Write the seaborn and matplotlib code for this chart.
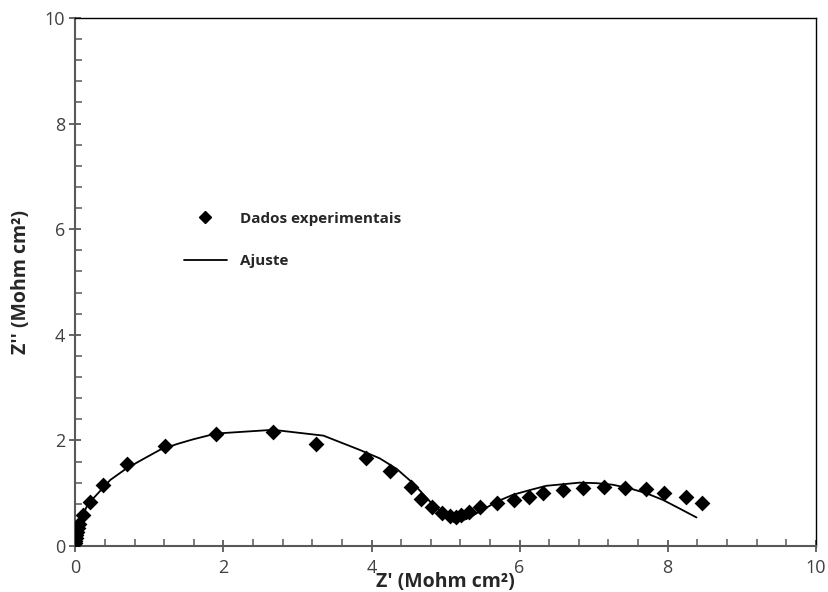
import matplotlib
matplotlib.use("Agg")
import matplotlib.pyplot as plt
from matplotlib.lines import Line2D
from matplotlib.ticker import MultipleLocator
import seaborn as sns
import pandas as pd

# Experimental impedance data (Nyquist plot)
z_real = [0.00, 0.00, 0.01, 0.01, 0.02, 0.03, 0.05, 0.10, 0.19, 0.37, 0.70, 1.21,
          1.90, 2.67, 3.25, 3.92, 4.25, 4.53, 4.67, 4.82, 4.95, 5.06, 5.14, 5.21,
          5.32, 5.46, 5.70, 5.93, 6.12, 6.32, 6.59, 6.86, 7.14, 7.43, 7.71, 7.95,
          8.25, 8.47]
z_imag = [0.05, 0.10, 0.15, 0.20, 0.27, 0.34, 0.42, 0.59, 0.84, 1.16, 1.55, 1.89,
          2.13, 2.15, 1.93, 1.67, 1.42, 1.11, 0.89, 0.74, 0.63, 0.57, 0.54, 0.59,
          0.64, 0.74, 0.82, 0.87, 0.93, 1.00, 1.06, 1.09, 1.12, 1.10, 1.07, 1.01,
          0.92, 0.81]

# Equivalent-circuit fit
fit_real = [0.00, 0.06, 0.15, 0.24, 0.47, 0.69, 0.92, 1.14, 1.37, 1.59, 1.90, 2.67,
            3.35, 3.84, 4.11, 4.34, 4.56, 4.79, 5.01, 5.12, 5.28, 5.46, 5.69, 5.91,
            6.14, 6.36, 6.59, 6.81, 7.04, 7.26, 7.49, 7.71, 7.94, 8.16, 8.39]
fit_imag = [0.00, 0.46, 0.74, 0.90, 1.25, 1.47, 1.65, 1.82, 1.93, 2.02, 2.13, 2.20,
            2.09, 1.82, 1.66, 1.46, 1.19, 0.84, 0.55, 0.45, 0.51, 0.65, 0.84, 0.97,
            1.06, 1.14, 1.17, 1.20, 1.19, 1.16, 1.09, 1.00, 0.87, 0.71, 0.54]

x_ticks = [0, 2, 4, 6, 8, 10]
y_ticks = [0, 2, 4, 6, 8, 10]

data = pd.DataFrame({"zr": z_real, "zi": z_imag})
fit = pd.DataFrame({"zr": fit_real, "zi": fit_imag})

sns.set_style("white")
plt.rcParams["font.family"] = ["Open Sans", "DejaVu Sans"]

fig = plt.figure(figsize=(8.29, 5.92), dpi=100)
ax = fig.add_axes([0.091, 0.0777, 0.893, 0.892])

sns.lineplot(data=fit, x="zr", y="zi", sort=False, color="black", lw=1.3,
             ax=ax, legend=False, zorder=2)
sns.scatterplot(data=data, x="zr", y="zi", marker="D", s=65, color="black",
                edgecolor="black", linewidth=0, ax=ax, legend=False, zorder=3)

ax.set_xlim(0, 10)
ax.set_ylim(0, 10)
ax.set_xticks(x_ticks)
ax.set_yticks(y_ticks)
ax.xaxis.set_minor_locator(MultipleLocator(0.4))
ax.yaxis.set_minor_locator(MultipleLocator(0.4))

axis_col = "#595959"
for side in ["left", "bottom"]:
    ax.spines[side].set_color(axis_col)
    ax.spines[side].set_linewidth(1.5)
for side in ["top", "right"]:
    ax.spines[side].set_color("black")
    ax.spines[side].set_linewidth(1.0)

ax.tick_params(axis="both", which="major", direction="inout", length=9, width=1.3,
               color=axis_col, labelsize=13, labelcolor="#404040", pad=3)
ax.tick_params(axis="both", which="minor", direction="in", length=5, width=1.1,
               color=axis_col)
ax.tick_params(axis="x", which="both", top=False, bottom=True)
ax.tick_params(axis="y", which="both", right=False, left=True)
ax.tick_params(axis="x", which="major", pad=5)

ax.set_xlabel("Z' (Mohm cm²)", fontsize=14, fontweight="bold")
ax.set_ylabel("Z'' (Mohm cm²)", fontsize=14, fontweight="bold")
ax.xaxis.set_label_coords(0.5, -0.05)
ax.yaxis.set_label_coords(-0.06, 0.5)

handles = [
    Line2D([], [], marker="D", color="black", linestyle="none", markersize=6.5),
    Line2D([], [], color="black", lw=1.3),
]
leg = ax.legend(handles, ["Dados experimentais", "Ajuste"], loc="upper left",
                bbox_to_anchor=(0.128, 0.659), frameon=False, handlelength=2.8,
                labelspacing=1.85, handletextpad=0.9,
                prop={"weight": "bold", "size": 11})

fig.savefig("out.png", dpi=100)
